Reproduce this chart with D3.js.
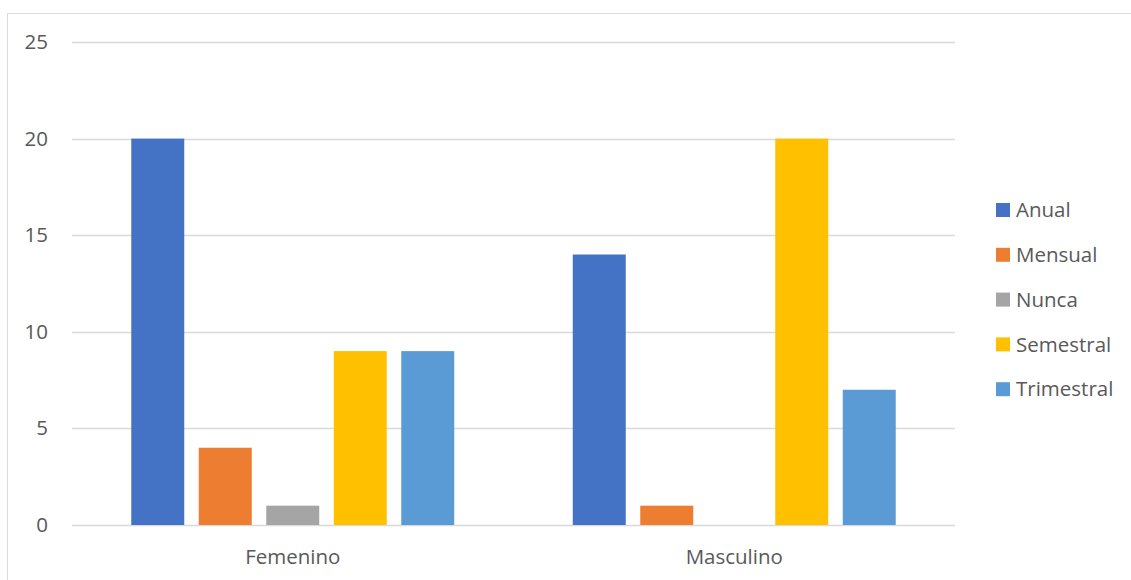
<!DOCTYPE html>
<html>
<head>
<meta charset="utf-8">
<script src="https://cdn.jsdelivr.net/npm/d3@7"></script>
<style>
  html, body { margin: 0; padding: 0; background: #fff; }
  svg { display: block; }
  text { font-family: "Open Sans", "Liberation Sans", sans-serif; fill: #595959; }
</style>
</head>
<body>
<svg id="chart" width="1131" height="580"></svg>
<script>
const categories = ["Femenino", "Masculino"];
const seriesNames = ["Anual", "Mensual", "Nunca", "Semestral", "Trimestral"];
const anual = [20, 14];
const mensual = [4, 1];
const nunca = [1, 0];
const semestral = [9, 20];
const trimestral = [9, 7];
const yTicks = [0, 5, 10, 15, 20, 25];
const colors = ["#4472C4", "#ED7D31", "#A5A5A5", "#FFC000", "#5B9BD5"];

const seriesValues = [anual, mensual, nunca, semestral, trimestral];

const svg = d3.select("#chart");
const FS = 20.5;

// chart frame
svg.append("rect")
  .attr("x", 7.5).attr("y", 13.5)
  .attr("width", 1140).attr("height", 580)
  .attr("fill", "#fff").attr("stroke", "#D9D9D9").attr("stroke-width", 1);

const plot = { left: 72, right: 955, top: 42, bottom: 525 };

const y = d3.scaleLinear().domain([0, 25]).range([plot.bottom, plot.top]);
const x0 = d3.scaleBand().domain(categories).range([plot.left, plot.right]).padding(0);
const x1 = d3.scaleBand().domain(seriesNames).range([0, x0.bandwidth()])
  .paddingInner(0.215).paddingOuter(0.878);

// gridlines
svg.append("g").selectAll("line").data(yTicks).join("line")
  .attr("x1", plot.left).attr("x2", plot.right)
  .attr("y1", d => Math.round(y(d)) + 0.5).attr("y2", d => Math.round(y(d)) + 0.5)
  .attr("stroke", "#D9D9D9").attr("stroke-width", 1.3);

// y axis labels
const yAxis = d3.axisLeft(y).tickValues(yTicks).tickSize(0).tickPadding(0);
const ya = svg.append("g").attr("transform", `translate(48,0)`).call(yAxis);
ya.select(".domain").remove();
ya.selectAll("text").attr("font-size", FS).style("font-family", "'Open Sans', sans-serif").attr("fill", "#595959");

// bars
const groups = svg.append("g").selectAll("g").data(categories).join("g")
  .attr("transform", d => `translate(${x0(d)},0)`);
groups.selectAll("rect")
  .data((c, ci) => seriesNames.map((s, si) => ({ s, si, v: seriesValues[si][ci] })))
  .join("rect")
  .attr("x", d => x1(d.s))
  .attr("width", x1.bandwidth())
  .attr("y", d => y(d.v))
  .attr("height", d => y(0) - y(d.v))
  .attr("fill", d => colors[d.si]);

// x axis labels
const xAxis = d3.axisBottom(x0).tickSize(0).tickPadding(0);
const xa = svg.append("g").attr("transform", `translate(0,${plot.bottom + 24})`).call(xAxis);
xa.select(".domain").remove();
xa.selectAll("text").attr("font-size", FS).style("font-family", "'Open Sans', sans-serif").attr("fill", "#595959");

// legend
const legend = svg.append("g").selectAll("g").data(seriesNames).join("g")
  .attr("transform", (d, i) => `translate(996,${210 + i * 44.8})`);
legend.append("rect").attr("x", 0).attr("y", -7).attr("width", 14).attr("height", 14)
  .attr("fill", (d, i) => colors[i]);
legend.append("text").attr("x", 20).attr("y", 0).attr("dy", "0.35em")
  .attr("font-size", FS).text(d => d);
</script>
</body>
</html>
